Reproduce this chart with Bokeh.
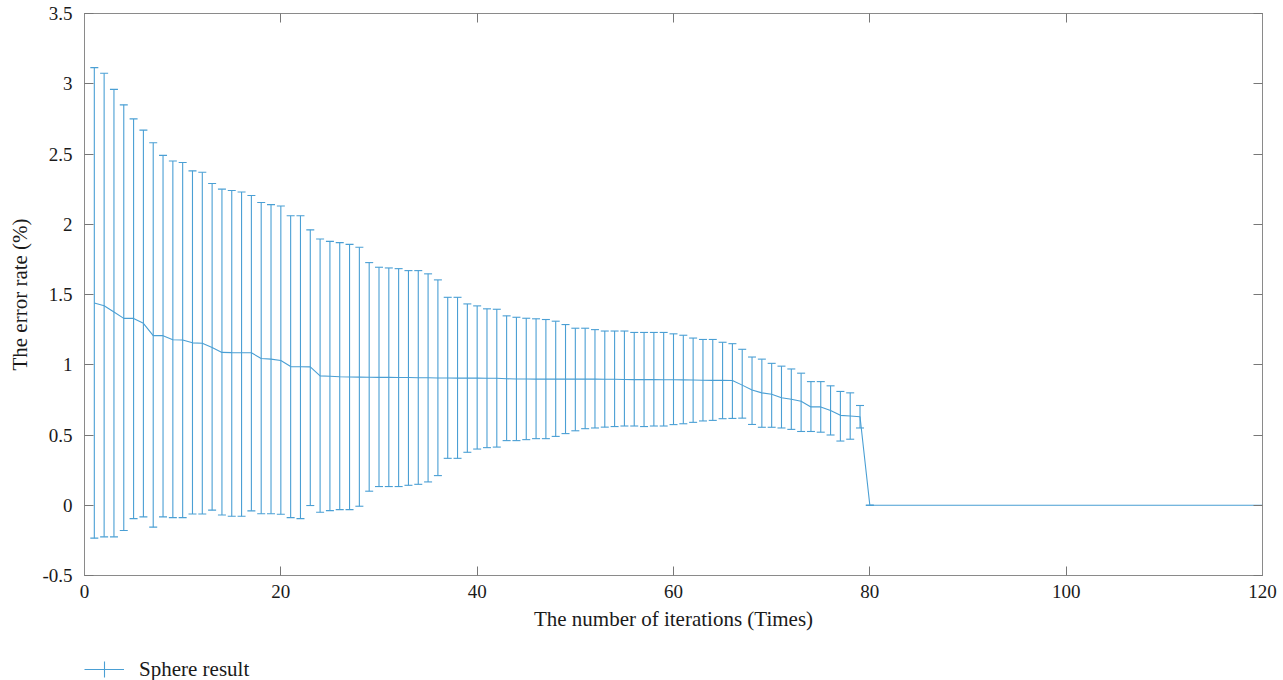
from bokeh.plotting import figure
from bokeh.layouts import column
from bokeh.models import (Range1d, LinearAxis, FixedTicker, Legend, LegendItem,
                          ColumnDataSource, CustomLabelingPolicy)
from bokeh.embed import file_html
from bokeh.resources import INLINE

# ---------------- data ----------------
iterations = list(range(1, 81))
mean_rate = [1.44, 1.42, 1.375, 1.33, 1.33, 1.295, 1.207, 1.207, 1.178, 1.176,
             1.156, 1.153, 1.123, 1.088, 1.086, 1.085, 1.085, 1.045, 1.04, 1.03,
             0.987, 0.986, 0.985, 0.921, 0.918, 0.915, 0.913, 0.912, 0.911, 0.91,
             0.91, 0.909, 0.909, 0.908, 0.908, 0.906, 0.906, 0.905, 0.905, 0.905,
             0.904, 0.904, 0.9, 0.899, 0.899, 0.898, 0.898, 0.898, 0.898, 0.898,
             0.898, 0.898, 0.897, 0.897, 0.895, 0.894, 0.894, 0.894, 0.893, 0.893,
             0.892, 0.891, 0.89, 0.889, 0.889, 0.888, 0.855, 0.82, 0.80, 0.79,
             0.765, 0.755, 0.74, 0.70, 0.70, 0.675, 0.64, 0.635, 0.63, 0.0]
upper_rate = [3.115, 3.075, 2.96, 2.85, 2.75, 2.67, 2.58, 2.49, 2.45, 2.44,
              2.38, 2.37, 2.29, 2.25, 2.24, 2.23, 2.205, 2.155, 2.14, 2.13,
              2.06, 2.06, 1.96, 1.895, 1.878, 1.869, 1.857, 1.836, 1.727, 1.694,
              1.689, 1.684, 1.67, 1.67, 1.647, 1.604, 1.48, 1.48, 1.433, 1.419,
              1.398, 1.395, 1.348, 1.338, 1.331, 1.327, 1.322, 1.31, 1.286, 1.26,
              1.26, 1.25, 1.24, 1.24, 1.24, 1.23, 1.23, 1.23, 1.23, 1.22,
              1.21, 1.19, 1.18, 1.18, 1.16, 1.15, 1.11, 1.055, 1.04, 1.01,
              0.99, 0.97, 0.94, 0.88, 0.88, 0.85, 0.81, 0.80, 0.71, 0.0]
lower_rate = [-0.234, -0.225, -0.225, -0.18, -0.095, -0.083, -0.156, -0.083, -0.088, -0.088,
              -0.062, -0.062, -0.035, -0.069, -0.078, -0.078, -0.04, -0.06, -0.06, -0.064,
              -0.088, -0.095, -0.002, -0.05, -0.038, -0.031, -0.031, -0.007, 0.10, 0.133,
              0.133, 0.133, 0.142, 0.149, 0.166, 0.211, 0.334, 0.334, 0.377, 0.40,
              0.41, 0.414, 0.46, 0.46, 0.467, 0.474, 0.474, 0.49, 0.51, 0.53,
              0.545, 0.55, 0.556, 0.56, 0.564, 0.564, 0.56, 0.564, 0.564, 0.574,
              0.58, 0.59, 0.60, 0.604, 0.616, 0.618, 0.62, 0.575, 0.555, 0.555,
              0.55, 0.54, 0.525, 0.525, 0.52, 0.50, 0.457, 0.47, 0.55, 0.0]
tail_iterations = list(range(81, 121))
tail_rate = [0.0] * 40

x_ticks = [0, 20, 40, 60, 80, 100, 120]
y_ticks = [-0.5, 0, 0.5, 1, 1.5, 2, 2.5, 3, 3.5]
y_tick_labels = ["-0.5", "0", "0.5", "1", "1.5", "2", "2.5", "3", "3.5"]

series_label = "Sphere result"
x_title = "The number of iterations (Times)"
y_title = "The error rate (%)"

# ---------------- style ----------------
BLUE = "#4a9fd4"
FONT = "Liberation Serif"
FS_TICK = "19px"
FS_TITLE = "21px"
AXIS_GRAY = "#8a8a8a"
TEXT = "#1a1a1a"

p = figure(width=1283, height=640, output_backend="svg", toolbar_location=None,
           x_range=Range1d(0, 120), y_range=Range1d(-0.5, 3.5),
           min_border_left=84, min_border_right=21, min_border_top=13,
           min_border_bottom=65, x_axis_location=None, y_axis_location=None)
p.grid.visible = False
p.outline_line_color = AXIS_GRAY
p.outline_line_width = 1
p.background_fill_color = "white"
p.border_fill_color = "white"

overrides = dict(zip(y_ticks, y_tick_labels))
no_labels = CustomLabelingPolicy(code="""
    const all = Array.from(indices);
    for (const i of all) { indices.unset(i); }
    return indices;
""")

def style_axis(ax, show_labels, ticks):
    ax.axis_line_color = AXIS_GRAY
    ax.major_tick_line_color = "#777777"
    ax.major_tick_in = 9
    ax.major_tick_out = 0
    ax.minor_tick_line_color = None
    ax.major_label_text_font = FONT
    ax.major_label_text_font_size = FS_TICK
    ax.major_label_text_color = TEXT
    ax.axis_label_text_font = FONT
    ax.axis_label_text_font_size = FS_TITLE
    ax.axis_label_text_font_style = "normal"
    ax.axis_label_text_color = TEXT
    if not show_labels:
        ax.major_label_overrides = {t: "" for t in ticks}
        ax.major_label_policy = no_labels
        ax.major_label_standoff = 0

xb = LinearAxis(ticker=FixedTicker(ticks=x_ticks), axis_label=x_title)
style_axis(xb, True, x_ticks)
xb.major_label_standoff = 9
xb.axis_label_standoff = 6
p.add_layout(xb, "below")

yl = LinearAxis(ticker=FixedTicker(ticks=y_ticks), axis_label=y_title,
                major_label_overrides=overrides)
style_axis(yl, True, y_ticks)
yl.major_label_standoff = 12
yl.axis_label_standoff = 7
p.add_layout(yl, "left")

xt = LinearAxis(ticker=FixedTicker(ticks=x_ticks))
style_axis(xt, False, x_ticks)
p.add_layout(xt, "above")
yr = LinearAxis(ticker=FixedTicker(ticks=y_ticks))
style_axis(yr, False, y_ticks)
p.add_layout(yr, "right")

# ---------------- glyphs ----------------
src = ColumnDataSource(dict(x=iterations, m=mean_rate, lo=lower_rate, hi=upper_rate))
p.segment(x0="x", y0="lo", x1="x", y1="hi", source=src, line_color=BLUE, line_width=1.1)
p.scatter(x="x", y="hi", source=src, marker="dash", size=8, line_color=BLUE, line_width=1.1)
p.scatter(x="x", y="lo", source=src, marker="dash", size=8, line_color=BLUE, line_width=1.1)

line_src = ColumnDataSource(dict(x=iterations + tail_iterations, y=mean_rate + tail_rate))
p.line(x="x", y="y", source=line_src, line_color=BLUE, line_width=1.1)

# ---------------- legend strip below the chart ----------------
lg = figure(width=1283, height=40, output_backend="svg", toolbar_location=None,
            x_range=Range1d(0, 120), y_range=Range1d(-0.5, 3.5),
            min_border=0, x_axis_location=None, y_axis_location=None)
lg.grid.visible = False
lg.outline_line_color = None
lg.border_fill_color = "white"
lg_line = lg.line(x="x", y="y", source=line_src, line_color=BLUE, line_width=1.1)
lg_icon = lg.scatter(x="x", y="m", source=src, marker="cross", size=16,
                     line_color=BLUE, line_width=1.1)
lg_line.visible = False
lg_icon.visible = False

legend = Legend(items=[LegendItem(label=series_label, renderers=[lg_line, lg_icon])],
                location=(0, -11), orientation="horizontal",
                border_line_color=None, background_fill_alpha=0,
                label_text_font=FONT, label_text_font_size=FS_TITLE, label_text_color=TEXT,
                glyph_width=40, glyph_height=44, label_standoff=15, label_height=20,
                margin=0, padding=0, spacing=0)
lg.add_layout(legend, "center")

layout = column(p, lg, spacing=0)
open("out.html", "w").write(file_html(layout, INLINE))
